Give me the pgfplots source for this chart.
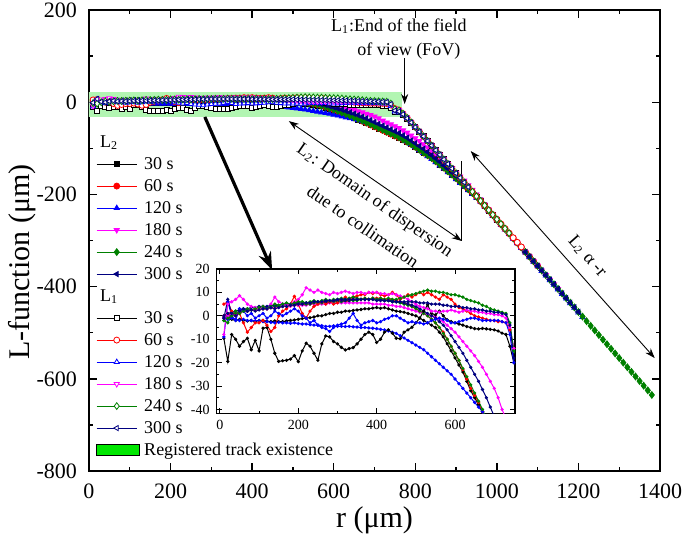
\documentclass[border=0pt]{standalone}
\usepackage{fontspec}
\setmainfont{Liberation Serif}
\usepackage{pgfplots}
\pgfplotsset{compat=1.18}
\usepackage{pgfplotstable}
\usetikzlibrary{arrows.meta}
\definecolor{cgreen}{RGB}{0,128,0}
\definecolor{cnavy}{RGB}{0,0,128}
\definecolor{cmag}{RGB}{255,0,255}
\definecolor{bandgreen}{RGB}{178,245,178}
\definecolor{leggreen}{RGB}{0,230,0}

\pgfplotstableread{
r A1 A2 A3 A4 A5 A6 B1 B2 B3 B4 B5 B6
10 -1 0 -1 -1 -2 0 -9.6 5 -9 -8 -2 -1
20 0 1 -1.5 0 -1 1 -19.5 6 6 5 -3 7
30 -1.5 0 -1 0.5 0 1.5 -8 2 0 6 0 1
40 -2 1 -1.5 1 1 2 -10 0 -2 7 2 0
50 -1.5 1.5 -2 1.5 1.5 2.5 -13 1 3 8.6 1 2
60 -2 2 -1.5 2 2 3 -11 -3 2 7 2 3
70 -2.2 2 -2 2 2 3 -9.6 -7 0 5 3 2
80 -2 2.5 -2 2.5 2.5 3.5 -14.5 -5 1 4 2.5 2.5
90 -2.5 2.5 -2.2 2.5 3 3.5 -10.5 -3 -1 3.5 3 2
100 -2 3 -2 3 3 4 -15 -3 0 3 3.5 2.5
110 -2 3 -2.5 3 3 4 -5.3 -2 1 4 4 3
120 -2.3 3 -2.5 3 3.5 4 -5 -4 -1 3 3 3
130 -2.5 3.5 -2.8 3.5 3.5 4.5 -10 -6.7 0 5 4 3.5
140 -2.2 3.5 -3 3.5 4 4.5 -16 -5 2 8 5 3
150 -2.5 4 -2.8 3.5 4 4.5 -19.5 0 1 6 4.5 3.5
160 -2.5 4 -3 4 4 5 -19.2 2 0 5 5 4
170 -2.2 4 -3 4 4.5 5 -19 3 1 4.5 5.5 4
180 -2 4.5 -3.2 4 4.5 5 -18.5 5 2 5 5 4.5
190 -1.8 4.5 -3 4.5 4.5 5 -17 8.3 3 6 5.5 4.5
200 -1.5 4.5 -3.3 4.5 5 5.5 -19.6 5 2 7 6 5
210 -1.2 5 -3.5 4.5 5 5.5 -15 1 0 9 6 5
220 -1 5 -3.5 4.5 5 5.5 -11.7 -1 -1 12 5.5 5.5
230 -0.8 5 -3.8 5 5 5.5 -13 2 -3 11 6 5.5
240 -0.5 5.5 -4 5 5.5 6 -16 4 -2 10 6.5 6
250 0 5.5 -4 5 5.5 6 -19 5 -4 11 6 6
260 0 6 -4.2 5 5.5 6 -12 6 -5 10 6.5 6
270 0.5 5.5 -4.5 5 6 6 -8.6 5 -5.5 9.5 7 6.5
280 1 6 -4.5 5.5 6 6 -9 6 -6.7 9 6.5 6.5
290 1 6 -4.3 5.5 6 6.5 -11 5 -5 10 7 6.5
300 1.5 6.5 -4.5 5.5 6 6.5 -12 5.5 -4 9.5 7 7
310 1.5 6.5 -4.5 5.5 6 6.5 -13.5 7 -3.5 10 7.5 7
320 2 6 -4.6 5.5 6.5 6.5 -14.6 8 -3 10.5 7 7
330 2 6.5 -4.5 5.5 6.5 6.5 -14 7 -1 10 7.5 7
340 2.3 7 -4.7 5.5 6.5 7 -13.6 8 1 9.5 8 7
350 2.5 7 -4.8 5.5 6.5 7 -12 8.5 -2 10 7.5 7
360 2.7 7 -5 5.5 7 7 -10 9 -4 10 7 7
370 3 7.5 -5 5.5 7 7 -8 9 -3 9.5 7.5 7
380 3 7 -5.2 5.5 7 7 -7 10 -2.5 10 7 7
390 3.3 7.5 -5.3 5 7 7 -8 9.5 -2 10 7.5 7
400 3.5 7.5 -5.5 5 7 7 -11.4 10 -3 10 7 6.5
410 3.2 7.5 -5.8 5 7 7 -10 9 -2.5 9.5 7.5 6.5
420 3.5 7 -6 5 6.5 6.5 -7 8.5 -1.5 9.5 7 6.5
430 3 7 -6.5 4.5 6.5 6.5 -6 9 -1 9 7.5 6.5
440 2.5 7 -7 4.5 6 6.5 -7.4 10 0 9.5 7 6
450 2 6.5 -7.5 4 6 6 -9.6 9 0 9 7 6
460 1.8 6 -8.5 4 5.5 6 -9.8 7 -1 8.5 7.5 6
470 1.5 5.5 -9.5 3.5 5 5.5 -7 8 -2 8 8 6
480 1 5 -10.5 3 4.5 5 -6 9 -3 7 8.5 6
490 0.5 4 -11.5 2.5 4 4.5 -4.9 8 -2.5 6 9 6
500 0 3 -12.5 2 3 4 -3 9 -3 5 9.5 6
510 -1 2 -13.5 1.5 2 3 -1 10 -3 4 10 5.5
520 -2 1 -14.5 1 1 2 2 9 -3.5 3.5 10.5 5.5
530 -3 0 -16 0.5 0 1 4.7 10 -3 3 11 5.5
540 -4 -1.5 -17.5 0 -1.5 0 1 9 -2 2 10.5 5
550 -5 -3 -19 -0.5 -3 -1 0.4 8 -1.5 2 10.5 5
560 -7 -5 -20.5 -1.5 -5 -2.5 2 7 -1 1.5 10 5
570 -9 -7 -22 -2.5 -7.5 -4 0 9 -1.5 2 10 4.5
580 -12 -10 -23.5 -4 -10 -6 -1.7 8 -2 2 9.5 4.5
590 -15 -13 -25 -5.5 -13 -8.5 -2.5 7 -3 2.5 9 4
600 -18 -16 -27 -7 -16 -11 -3 5 -3 2 9 4
610 -21 -19 -29 -9 -19 -13.5 -3.5 3.5 -2.5 1.5 8.5 4
620 -24 -23 -31 -11 -22.5 -16 -4 3 -2 2 8 3.5
630 -28 -27 -33 -13 -26 -19 -4.6 2 -1.5 2.5 7 3.5
640 -32 -31 -35 -15 -29.5 -22 -5 1 -1 2 6.5 3
650 -35 -34 -37 -17 -33 -25 -5.5 0 -1 2 6 3
660 -38 -37 -39 -19.5 -36.5 -28 -5.6 -0.5 -1.5 1.5 5.5 2.5
670 -41 -41 -41 -22 -40 -31.5 -5.4 -1 -2 1.5 4.5 2.5
680 -45 -45 -43 -25 -44 -35 -5.6 -1.5 -2 1 4 2
690 -49 -49 -46 -28 -48 -39 -5.8 -2 -2 1 3 2
700 -53 -53 -50 -31 -52 -43 -6 -2 -2 0.5 2.5 1.5
710 -57 -57 -54 -35 -56 -47 -6.5 -2.5 -2 0.5 2 1.5
720 -61 -61 -58 -40 -60 -51 -7.4 -2.5 -2.5 0 1.5 1
730 -65 -65 -62 -44 -64 -55 -8 -3 -3 -1 1 0.5
740 -69 -69 -66 -48 -68 -59 -13 -6 -8 -5 -3 -4
750 -73 -73 -70 -52 -72 -63 -20 -14 -20 -14 -15 -18
760 -77 -77 -74 -56 -76 -67 -22 -17 -22 -17 -18 -20
770 -81 -81 -79 -61 -81 -72 -28 -25 -27 -25 -25 -26
780 -86 -86 -85 -66 -86 -77 -36 -34 -35 -34 -34 -35
790 -91 -91 -91 -72 -91 -83 -45 -44 -44 -44 -44 -44
800 -97 -97 -97 -78 -97 -89 -54 -54 -54 -54 -54 -54
810 -103 -103 -104 -84 -103 -95 -64 -64 -64 -64 -64 -64
820 -109 -109 -110 -91 -109 -101 -74 -74 -74 -74 -74 -74
830 -115 -115 -117 -98 -115 -108 -84 -84 -84 -84 -84 -84
840 -121 -121 -123 -105 -121 -115 -94 -94 -94 -94 -94 -94
850 -128 -128 -130 -112 -128 -122 -104 -104 -104 -104 -104 -104
860 -135 -135 -137 -120 -135 -129 -114 -114 -114 -114 -114 -114
870 -142 -142 -144 -128 -142 -137 -124 -124 -124 -124 -124 -124
880 -150 -150 -152 -136 -150 -144 -134 -134 -134 -134 -134 -134
890 -157 -157 -159 -144 -157 -152 -144 -144 nan -144 -144 -144
900 -165 -165 -167 -152 -165 -160 -154 -154 nan -154 -154 -154
910 -173 -173 -175 -161 -173 -168 nan -164 nan nan -164 -164
920 -181 -181 -183 -170 -181 -177 nan -174 nan nan -174 -174
930 -189 -189 -191 -180 -189 -185 nan -184 nan nan -184 -184
940 -197 -197 -199 -190 -197 -194 nan -194 nan nan -194 nan
950 -205 -205 -207 -200 -205 -203 nan -204 nan nan -204 nan
960 -215 -215 -216 -211 -215 -213 nan -214 nan nan -214 nan
970 -225 -225 -226 -222 -225 -224 nan -224 nan nan -224 nan
980 -235 -235 -236 -233 -235 -235 nan -234 nan nan -234 nan
990 -245 -245 -246 -244 -245 -245 nan -244 nan nan -244 nan
1000 -255 -255 -256 -255 -255 -255 nan -254 nan nan -254 nan
1010 nan -265 -266 -265 -265 -265 nan -264 nan nan -264 nan
1020 nan -275 -276 -275 -275 -275 nan -274 nan nan -274 nan
1030 nan -285 -286 -285 -285 -285 nan -284 nan nan -284 nan
1040 nan -295 -296 -295 -295 -295 nan -294 nan nan nan nan
1050 nan -305 -306 -305 -305 -305 nan -304 nan nan nan nan
1060 nan -315 -316 -315 -315 -315 nan -314 nan nan nan nan
1070 nan -325 -326 -325 -325 -325 nan nan nan nan nan nan
1080 nan -335 -336 -335 -335 -335 nan nan nan nan nan nan
1090 nan -345 -346 -345 -345 -345 nan nan nan nan nan nan
1100 nan -355 -356 -355 -355 -355 nan nan nan nan nan nan
1110 nan nan -366 -365 -365 -365 nan nan nan nan nan nan
1120 nan nan -376 -375 -375 -375 nan nan nan nan nan nan
1130 nan nan -386 -385 -385 -385 nan nan nan nan nan nan
1140 nan nan -396 -395 -395 -395 nan nan nan nan nan nan
1150 nan nan -406 -405 -405 -405 nan nan nan nan nan nan
1160 nan nan -416 nan -415 -415 nan nan nan nan nan nan
1170 nan nan -426 nan -425 -425 nan nan nan nan nan nan
1180 nan nan -436 nan -435 -435 nan nan nan nan nan nan
1190 nan nan -446 nan -445 -445 nan nan nan nan nan nan
1200 nan nan -456 nan -455 -455 nan nan nan nan nan nan
1210 nan nan -466 nan -465 nan nan nan nan nan nan nan
1220 nan nan nan nan -475 nan nan nan nan nan nan nan
1230 nan nan nan nan -485 nan nan nan nan nan nan nan
1240 nan nan nan nan -495 nan nan nan nan nan nan nan
1250 nan nan nan nan -505 nan nan nan nan nan nan nan
1260 nan nan nan nan -515 nan nan nan nan nan nan nan
1270 nan nan nan nan -525 nan nan nan nan nan nan nan
1280 nan nan nan nan -535 nan nan nan nan nan nan nan
1290 nan nan nan nan -545 nan nan nan nan nan nan nan
1300 nan nan nan nan -555 nan nan nan nan nan nan nan
1310 nan nan nan nan -565 nan nan nan nan nan nan nan
1320 nan nan nan nan -575 nan nan nan nan nan nan nan
1330 nan nan nan nan -585 nan nan nan nan nan nan nan
1340 nan nan nan nan -595 nan nan nan nan nan nan nan
1350 nan nan nan nan -605 nan nan nan nan nan nan nan
1360 nan nan nan nan -615 nan nan nan nan nan nan nan
1370 nan nan nan nan -625 nan nan nan nan nan nan nan
1380 nan nan nan nan -635 nan nan nan nan nan nan nan
}\datatab

\begin{document}
\begin{tikzpicture}
\useasboundingbox (-44.5pt,-33.5pt) rectangle (298pt,235.5pt);
\begin{axis}[
  at={(0pt,0pt)}, anchor=south west,
  scale only axis, width=285.5pt, height=230.5pt,
  xmin=0, xmax=1400, ymin=-800, ymax=200,
  xtick={0,200,...,1400}, ytick={-800,-600,...,200},
  minor x tick num=1, minor y tick num=1,
  tick align=inside, major tick length=4pt, minor tick length=2.2pt,
  every tick/.style={black, line width=0.7pt},
  axis line style={line width=0.9pt},
  /pgf/number format/assume math mode=true,
  /pgf/number format/1000 sep={},
  ticklabel style={font=\fontsize{11}{13}\selectfont},
  xticklabel style={yshift=-3pt},
  yticklabel style={xshift=-2.5pt},
  xlabel={r (μm)}, ylabel={L-function (μm)},
  xlabel style={font=\fontsize{15}{18}\selectfont, at={(axis description cs:0.5,-0.106)}, anchor=center},
  ylabel style={font=\fontsize{15}{18}\selectfont, at={(axis description cs:-0.117,0.453)}, anchor=center},
  every axis plot/.append style={line width=0.4pt, mark size=1.5pt},
  legend cell align=left,
  legend image code/.code={\draw[mark repeat=2,mark phase=2] plot coordinates {(0pt,0pt) (10pt,0pt) (20pt,0pt)};},
  legend style={at={(axis description cs:0.012,0.735)}, anchor=north west, draw=none, fill=none,
    font=\fontsize{9}{10}\selectfont, inner sep=0pt, row sep=1.5pt, column sep=1.5pt,
    nodes={inner sep=0.5pt, text height=7pt, text depth=1.5pt}},
]
\addplot[draw=none, fill=bandgreen, forget plot] coordinates {(-10,-32) (768,-32) (768,22) (-10,22)};

\addlegendimage{empty legend}
\addlegendentry{\makebox[0pt][l]{\hspace{-22pt}L\textsubscript{2}}}
\addplot[black, mark=square*, mark size=1.25pt] table[x=r,y=A1]{\datatab};
\addlegendentry{30 s}
\addplot[red, mark=*] table[x=r,y=A2]{\datatab};
\addlegendentry{60 s}
\addplot[blue, mark=triangle*] table[x=r,y=A3]{\datatab};
\addlegendentry{120 s}
\addplot[cmag, mark=triangle*, mark options={rotate=180}] table[x=r,y=A4]{\datatab};
\addlegendentry{180 s}
\addplot[cgreen, mark=diamond*, mark size=1.7pt] table[x=r,y=A5]{\datatab};
\addlegendentry{240 s}
\addplot[cnavy, mark=triangle*, mark options={rotate=90}] table[x=r,y=A6]{\datatab};
\addlegendentry{300 s}

\addlegendimage{empty legend}
\addlegendentry{\makebox[0pt][l]{\hspace{-22pt}L\textsubscript{1}}}
\addplot[black, mark=square*, mark size=1.25pt, mark options={fill=white}] table[x=r,y=B1]{\datatab};
\addlegendentry{30 s}
\addplot[red, mark=*, mark options={fill=white}] table[x=r,y=B2]{\datatab};
\addlegendentry{60 s}
\addplot[blue, mark=triangle*, mark options={fill=white}] table[x=r,y=B3]{\datatab};
\addlegendentry{120 s}
\addplot[cmag, mark=triangle*, mark options={fill=white, rotate=180}] table[x=r,y=B4]{\datatab};
\addlegendentry{180 s}
\addplot[cgreen, mark=diamond*, mark size=1.7pt, mark options={fill=white}] table[x=r,y=B5]{\datatab};
\addlegendentry{240 s}
\addplot[cnavy, mark=triangle*, mark options={fill=white, rotate=90}] table[x=r,y=B6]{\datatab};
\addlegendentry{300 s}

\addlegendimage{legend image code/.code={\draw[fill=leggreen, draw=black, line width=0.5pt] (0pt,-2.8pt) rectangle (21.5pt,2.8pt);}}
\addlegendentry{Registered track existence}

% annotations
\draw[line width=0.45pt, -{Stealth[length=5pt,width=3.5pt]}] (axis cs:774,95) -- (axis cs:774,-4);
\node[font=\fontsize{9}{10}\selectfont] at (axis cs:760,166) {L\textsubscript{1}:End of the field};
\node[font=\fontsize{9}{10}\selectfont] at (axis cs:784,111) {of view (FoV)};
\draw[line width=0.45pt, {Stealth[length=5pt,width=3.5pt]}-{Stealth[length=5pt,width=3.5pt]}] (axis cs:490,-41) -- (axis cs:914,-301);
\draw[line width=0.5pt] (axis cs:914,-128) -- (axis cs:914,-301);
\node[font=\fontsize{9}{10}\selectfont, rotate=-34.7] at (axis cs:700,-214) {L\textsubscript{2}: Domain of dispersion};
\node[font=\fontsize{9}{10}\selectfont, rotate=-34.7] at (axis cs:672,-270) {due to collimation};
\draw[line width=0.45pt, {Stealth[length=5pt,width=3.5pt]}-{Stealth[length=5pt,width=3.5pt]}] (axis cs:936,-106) -- (axis cs:1387,-555);
\node[font=\fontsize{9}{10}\selectfont, rotate=-48.4] at (axis cs:1222,-334) {L\textsubscript{2} α -r};
\draw[line width=1.6pt, -{Stealth[length=9pt,width=6.5pt]}] (axis cs:284,-32) -- (axis cs:449,-364);
\end{axis}

\begin{axis}[
  at={(63.8pt,28.8pt)}, anchor=south west,
  scale only axis, width=149.2pt, height=72.2pt,
  xmin=-8.5, xmax=753, ymin=-41.7, ymax=20,
  xtick={0,200,400,600}, ytick={-40,-30,...,20},
  minor x tick num=1, minor y tick num=1,
  tick align=inside, major tick length=2.5pt, minor tick length=1.3pt,
  every tick/.style={black, line width=0.5pt},
  axis line style={line width=0.7pt},
  axis background/.style={fill=white},
  /pgf/number format/assume math mode=true,
  ticklabel style={font=\fontsize{7}{8}\selectfont},
  every axis plot/.append style={line width=0.5pt, mark=*, mark size=0.55pt},
]
\addplot[black] table[x=r,y=A1]{\datatab};
\addplot[red] table[x=r,y=A2]{\datatab};
\addplot[blue] table[x=r,y=A3]{\datatab};
\addplot[cmag] table[x=r,y=A4]{\datatab};
\addplot[cgreen] table[x=r,y=A5]{\datatab};
\addplot[cnavy] table[x=r,y=A6]{\datatab};
\addplot[black] table[x=r,y=B1]{\datatab};
\addplot[red] table[x=r,y=B2]{\datatab};
\addplot[blue] table[x=r,y=B3]{\datatab};
\addplot[cmag] table[x=r,y=B4]{\datatab};
\addplot[cgreen] table[x=r,y=B5]{\datatab};
\addplot[cnavy] table[x=r,y=B6]{\datatab};
\end{axis}
\end{tikzpicture}
\end{document}
